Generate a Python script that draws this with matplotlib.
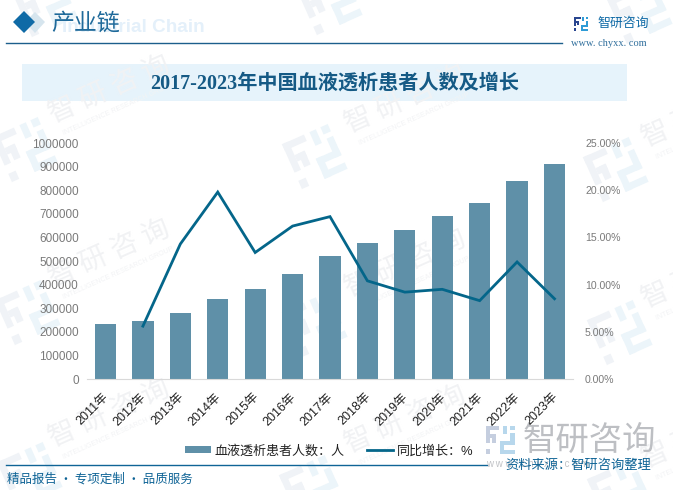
import math
import matplotlib
matplotlib.use("Agg")
import matplotlib.pyplot as plt
import matplotlib.transforms as mt
from matplotlib.patches import Polygon, Rectangle

CJK = 'Noto Sans CJK SC'
plt.rcParams['font.family'] = ['Liberation Sans', CJK, 'DejaVu Sans']

years = ['2011年','2012年','2013年','2014年','2015年','2016年','2017年','2018年','2019年','2020年','2021年','2022年','2023年']
patients = [233000,245000,280000,339000,381000,445000,521000,577000,632000,691000,746000,840000,912000]
growth = [None,5.6,14.3,19.8,13.4,16.2,17.2,10.4,9.2,9.5,8.3,12.4,8.5]
left_ticks = list(range(0,1000001,100000))
right_ticks = [0,5,10,15,20,25]
title = '2017-2023年中国血液透析患者人数及增长'
W, H = 673, 490
BAR, LINE, BLUE, GREY = '#5F90A8', '#04668A', '#0F6AA6', '#7A7A7A'

fig = plt.figure(figsize=(W/100, H/100), dpi=100, facecolor='white')

bg = fig.add_axes([0,0,1,1], zorder=0)
bg.set_xlim(0,W); bg.set_ylim(H,0); bg.axis('off')

def logo(ax, cx, cy, s, c1, c2, rot=0.0):
    tr = (mt.Affine2D().translate(-.5,-.5).scale(s).rotate_deg(rot).translate(cx,cy) + ax.transData)
    parts = [(0,0,.48,.14,c1),(0,0,.14,.62,c1),(.14,.3,.22,.14,c1),(.22,.3,.14,.3,c1),(0,.8,.16,.18,c1),
             (.84,0,.16,.16,c2),(.6,.0,.14,.3,c2),(.86,.26,.14,.42,c2),(.5,.54,.5,.14,c2),(.5,.54,.14,.44,c2),(.5,.84,.5,.14,c2)]
    for (a,b,w,h,c) in parts:
        ax.add_patch(Rectangle((a,b),w,h,facecolor=c,edgecolor='none',transform=tr))

# tiled watermarks
for (x,y) in [(50,123),(50,287),(50,447),(346,133),(346,297),(346,453),(643,147),(643,308),(643,468)]:
    bg.text(x,y-7,'智 研 咨 询',fontsize=20,color='#F1F2F4',rotation=24,rotation_mode='anchor',ha='left',va='center',family=CJK)
    bg.text(x+13,y+11,'INTELLIGENCE RESEARCH GROUP',fontsize=5,color='#F2F3F5',rotation=24,rotation_mode='anchor',ha='left',va='center')
for (x,y) in [(25,150),(28,313),(30,475),(315,157),(315,325),(312,488),(616,170),(620,333),(620,492),(45,5),(330,3),(640,12)]:
    logo(bg,x,y,50,'#F0F3F7','#ECF5FA',rot=-24)

# header
bg.add_patch(Polygon([[35,12],[45,22],[35,33],[25,22]],facecolor='#D6E5EE',edgecolor='none'))
bg.add_patch(Polygon([[24,11],[35,22],[24,33],[13,22]],facecolor=BLUE,edgecolor='none'))
bg.text(62,27,'Industrial Chain',fontsize=13.6,fontweight='bold',color='#E4F0FA',ha='left',va='center')
bg.text(51,23,'产业链',fontsize=16.5,color='#1F6A9A',ha='left',va='center',family=CJK)
bg.plot([6,562],[43.5,43.5],color='#1C5F8C',lw=1.0)
logo(bg,581,24,14,'#2A4690','#2E9BD6')
bg.text(597,23,'智研咨询',fontsize=9.3,color='#0F6AA6',ha='left',va='center',family=CJK)
bg.text(571,44,'www. chyxx. com',fontsize=7.5,color='#2F6E9C',ha='left',va='center',family='Liberation Serif')

# title band
bg.add_patch(Rectangle((22,64),605,37,facecolor='#E6F3FB',edgecolor='none'))
bg.text(334.5,84,title,fontsize=14.5,fontweight='bold',color='#155A85',ha='center',va='center',
        family=['Liberation Serif',CJK])

# footer
bg.plot([6,487],[464.5,464.5],color='#0F6496',lw=1.0)
bg.text(7,479,'精品报告 · 专项定制 · 品质服务',fontsize=9.0,color='#0F6496',ha='left',va='center',family=CJK)
logo(bg,500,440,29,'#C5CEDF','#B7D7EC')
bg.text(523,440,'智研咨询',fontsize=24,color='#BDBFC3',ha='left',va='center',family=CJK)
bg.text(486,464,'w w w . c h y x x . c o m',fontsize=7,color='#C0C2C6',ha='left',va='center')
bg.text(505,465,'资料来源：智研咨询整理',fontsize=9.5,color='#0F6496',ha='left',va='center',zorder=5,family=CJK)

# chart
ax = fig.add_axes([86.8/W, 1-379/H, (573.2-86.8)/W, 236/H], zorder=2)
ax.patch.set_alpha(0)
x = list(range(len(years)))
bars = ax.bar(x, patients, width=0.57, color=BAR, label='血液透析患者人数：人')
ax.set_xlim(-0.5, 12.5); ax.set_ylim(0,1000000)
ax.set_yticks(left_ticks); ax.set_yticklabels([str(v) for v in left_ticks])
ax.set_xticks(x); ax.set_xticklabels(years, rotation=45, rotation_mode='anchor', ha='right', va='top')
ax.tick_params(axis='y', length=0, labelsize=8.5, labelcolor=GREY, pad=5.8)
ax.tick_params(axis='x', length=0, labelsize=9, labelcolor='#222222', pad=8.5)
shift = mt.ScaledTranslation(-2/72, 0, fig.dpi_scale_trans)
for lab in ax.get_xticklabels():
    lab.set_transform(lab.get_transform() + shift)
for s in ['top','left','right']:
    ax.spines[s].set_visible(False)
ax.spines['bottom'].set_color('#D9D9D9')

ax2 = ax.twinx()
ax2.patch.set_alpha(0)
xs = [i for i,v in zip(x,growth) if v is not None]
ys = [v for v in growth if v is not None]
ln, = ax2.plot(xs, ys, color=LINE, lw=2.0, solid_joinstyle='miter', label='同比增长：%')
ax2.set_ylim(0,25)
ax2.set_yticks(right_ticks); ax2.set_yticklabels([f'{v:.2f}%' for v in right_ticks])
ax2.tick_params(axis='y', length=0, labelsize=7.6, labelcolor=GREY, pad=8.5)
for s in ax2.spines.values():
    s.set_visible(False)

leg = fig.legend(handles=[bars, ln], loc='center', bbox_to_anchor=(329/W, 1-451/H), ncol=2, frameon=False,
                 fontsize=9.4, handlelength=2.0, handleheight=0.5, columnspacing=1.7, handletextpad=0.3)
for t in leg.get_texts():
    t.set_color('#222222')

fig.savefig('out.png', dpi=100, facecolor='white')
